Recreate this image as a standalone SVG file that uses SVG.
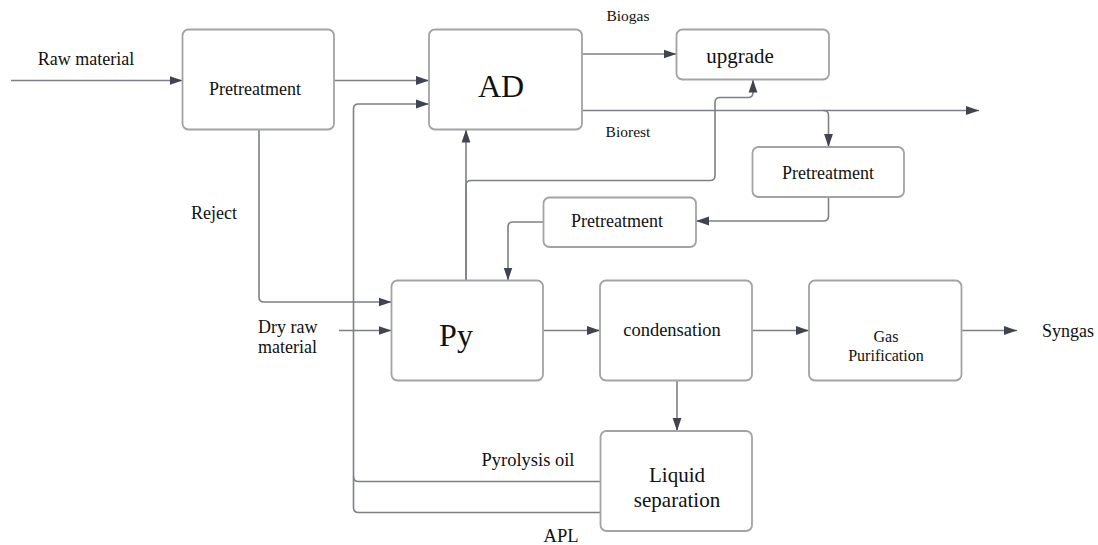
<svg xmlns="http://www.w3.org/2000/svg" width="1098" height="545" viewBox="0 0 1098 545">
  <style>
    .box { fill: #ffffff; stroke: #a2a3a7; stroke-width: 1.8; }
    .lbl { font-family: "Liberation Serif", "Tinos", "DejaVu Serif", serif; fill: #111111; text-anchor: middle; }
    .start { text-anchor: start; }
    .edge { fill: none; stroke: #7d8088; stroke-width: 1.6; stroke-linejoin: round; }
    .arr { marker-end: url(#head); }
  </style>
  <defs>
    <marker id="head" viewBox="0 0 13 10" refX="13" refY="5" markerWidth="13" markerHeight="10" markerUnits="userSpaceOnUse" orient="auto">
      <path d="M0,0.6 L13,5 L0,9.4 Z" fill="#3f4450"/>
    </marker>
  </defs>

  <rect width="1098" height="545" fill="#ffffff"/>

  <!-- connectors -->
  <g id="connectors">
    <path class="edge arr" d="M11,80.5 H182.5"/>
    <path class="edge arr" d="M334,80.5 H429"/>
    <path class="edge arr" d="M582,54 H676.5"/>
    <path class="edge arr" d="M582,110.5 H979"/>
    <path class="edge arr" d="M823.5,110.5 Q828.5,110.5 828.5,115.5 V147"/>
    <path class="edge arr" d="M828.5,197 V216 Q828.5,221 823.5,221 H696"/>
    <path class="edge arr" d="M543.5,222 H513 Q508,222 508,227 V280.5"/>
    <path class="edge arr" d="M466,280.5 V129.5"/>
    <path class="edge arr" d="M466,280.5 V185.5 Q466,180.5 471,180.5 H710 Q715,180.5 715,175.5 V102.5 Q715,97.5 720,97.5 H748 Q753,97.5 753,92.5 V79.5"/>
    <path class="edge arr" d="M259,129.5 V297 Q259,302 264,302 H391.5"/>
    <path class="edge arr" d="M339,330.5 H391.5"/>
    <path class="edge arr" d="M543,330.5 H600"/>
    <path class="edge arr" d="M752,330.5 H809"/>
    <path class="edge arr" d="M961.5,330.5 H1017"/>
    <path class="edge arr" d="M677,380.5 V431"/>
    <path class="edge arr" d="M600.5,481.5 H358.5 Q353.5,481.5 353.5,476.5 V109 Q353.5,104 358.5,104 H429"/>
    <path class="edge" d="M600.5,512.5 H358.5 Q353.5,512.5 353.5,507.5 V476.5"/>
  </g>

  <!-- nodes -->
  <g id="pretreatment-raw">
    <rect class="box" x="182.5" y="29.5" width="151.5" height="100" rx="6"/>
    <text class="lbl" x="255" y="95" font-size="18">Pretreatment</text>
  </g>
  <g id="ad">
    <rect class="box" x="429" y="29.5" width="153" height="100" rx="6"/>
    <text class="lbl" x="501" y="97" font-size="32">AD</text>
  </g>
  <g id="upgrade">
    <rect class="box" x="676.5" y="29.5" width="152.5" height="50" rx="6"/>
    <text class="lbl" x="740" y="63" font-size="21">upgrade</text>
  </g>
  <g id="pretreatment-biorest">
    <rect class="box" x="752.5" y="147" width="151.5" height="50" rx="6"/>
    <text class="lbl" x="828" y="179" font-size="18">Pretreatment</text>
  </g>
  <g id="pretreatment-py">
    <rect class="box" x="543.5" y="197.5" width="152.5" height="49.5" rx="6"/>
    <text class="lbl" x="617" y="227" font-size="18">Pretreatment</text>
  </g>
  <g id="py">
    <rect class="box" x="391.5" y="280.5" width="151.5" height="100" rx="6"/>
    <text class="lbl" x="456" y="346" font-size="32">Py</text>
  </g>
  <g id="condensation">
    <rect class="box" x="600" y="280.5" width="152" height="100" rx="6"/>
    <text class="lbl" x="672" y="336" font-size="18.5">condensation</text>
  </g>
  <g id="gas-purification">
    <rect class="box" x="809" y="280.5" width="152.5" height="100" rx="6"/>
    <text class="lbl" x="886" y="342" font-size="16">Gas</text>
    <text class="lbl" x="886" y="361" font-size="16">Purification</text>
  </g>
  <g id="liquid-separation">
    <rect class="box" x="600.5" y="431" width="151.5" height="100" rx="6"/>
    <text class="lbl" x="677" y="482" font-size="21">Liquid</text>
    <text class="lbl" x="677" y="507" font-size="21">separation</text>
  </g>

  <!-- stream labels -->
  <g id="labels">
    <text class="lbl" x="86" y="65" font-size="18">Raw material</text>
    <text class="lbl" x="628" y="21" font-size="15.5">Biogas</text>
    <text class="lbl" x="628" y="137" font-size="15.5">Biorest</text>
    <text class="lbl" x="214" y="219" font-size="18">Reject</text>
    <text class="lbl start" x="258" y="333" font-size="18">Dry raw</text>
    <text class="lbl start" x="258" y="353" font-size="18">material</text>
    <text class="lbl start" x="1042" y="337" font-size="18">Syngas</text>
    <text class="lbl" x="528" y="466" font-size="18.5">Pyrolysis oil</text>
    <text class="lbl" x="561" y="542" font-size="18.5">APL</text>
  </g>
</svg>
